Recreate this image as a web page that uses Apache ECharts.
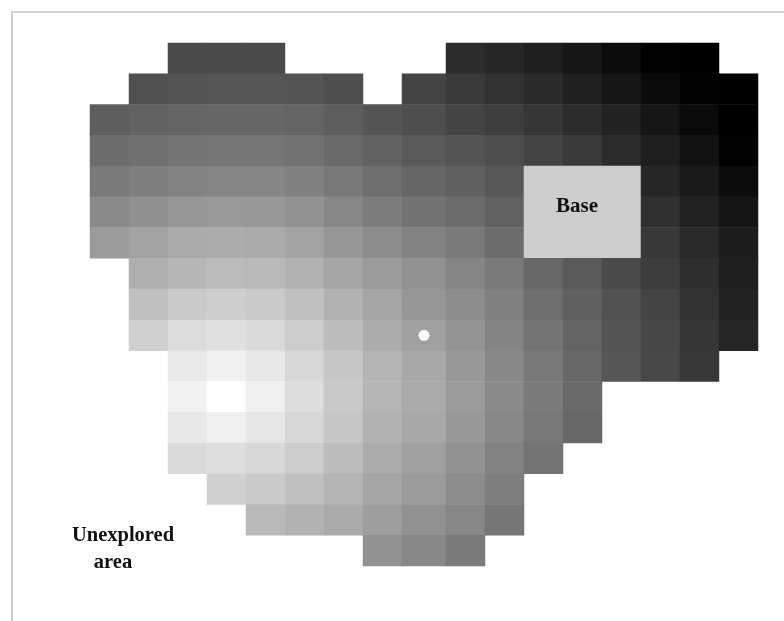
<!DOCTYPE html>
<html>
<head>
<meta charset="utf-8">
<style>
  html, body { margin: 0; padding: 0; background: #fff; }
  #chart { width: 784px; height: 621px; }
</style>
<script src="https://cdn.jsdelivr.net/npm/echarts@6/dist/echarts.min.js"></script>
</head>
<body>
<div id="chart"></div>
<script>
const rows = ['0', '1', '2', '3', '4', '5', '6', '7', '8', '9', '10', '11', '12', '13', '14', '15', '16'];
const leftColumns = ['0', '1', '2', '3', '4', '5', '6', '7'];
const middleColumns = ['8'];
const rightColumns = ['9', '10', '11', '12', '13', '14', '15', '16'];

// grey level of each explored cell (0 black, 255 white), null = unexplored
const _ = null;
const greyLevels = [
  [_, _, 74, 74, 74, _, _, _, _, 44, 38, 30, 22, 12, 2, 0, _],
  [_, 80, 84, 86, 86, 85, 78, _, 68, 58, 50, 42, 32, 22, 10, 2, 0],
  [94, 98, 101, 103, 103, 100, 94, 85, 78, 68, 62, 54, 44, 34, 22, 10, 0],
  [108, 112, 116, 118, 118, 114, 106, 98, 90, 84, 78, 68, 58, 44, 30, 18, 2],
  [122, 126, 130, 133, 133, 128, 120, 110, 102, 96, 88, 205, 205, 205, 38, 26, 12],
  [138, 144, 150, 153, 152, 146, 135, 125, 115, 108, 98, 205, 205, 205, 48, 34, 20],
  [155, 163, 170, 172, 170, 163, 150, 140, 130, 122, 108, 205, 205, 205, 56, 42, 28],
  [_, 175, 182, 187, 185, 178, 165, 155, 145, 133, 122, 104, 90, 74, 60, 46, 30],
  [_, 192, 202, 206, 202, 192, 178, 165, 150, 140, 128, 110, 96, 82, 68, 50, 34],
  [_, 208, 220, 224, 218, 205, 188, 172, 160, 148, 132, 116, 100, 84, 70, 54, 38],
  [_, _, 233, 240, 232, 215, 198, 180, 168, 152, 136, 120, 104, 86, 72, 56, _],
  [_, _, 242, 255, 240, 220, 200, 182, 170, 155, 138, 122, 106, _, _, _, _],
  [_, _, 232, 240, 230, 215, 198, 178, 168, 152, 136, 120, 104, _, _, _, _],
  [_, _, 218, 222, 216, 205, 188, 172, 160, 146, 130, 116, _, _, _, _, _],
  [_, _, _, 208, 202, 192, 180, 165, 155, 140, 126, _, _, _, _, _, _],
  [_, _, _, _, 185, 178, 170, 158, 145, 135, 118, _, _, _, _, _, _],
  [_, _, _, _, _, _, _, 145, 135, 122, _, _, _, _, _, _, _]
];

// the picture's ninth column is a little wider than the others, so it gets its own grid
const parts = [
  { columns: leftColumns, first: 0, left: 90, width: 312 },
  { columns: middleColumns, first: 8, left: 402, width: 44 },
  { columns: rightColumns, first: 9, left: 446, width: 312 }
];

function cellsOf(part) {
  const cells = [];
  greyLevels.forEach(function(row, r) {
    part.columns.forEach(function(name, c) {
      const v = row[part.first + c];
      if (v !== null) cells.push([c, r, v]);
    });
  });
  return cells;
}

const hiddenAxis = {
  axisLine: { show: false },
  axisTick: { show: false },
  axisLabel: { show: false },
  splitLine: { show: false },
  splitArea: { show: false }
};

const myChart = echarts.init(document.getElementById('chart'), null, { renderer: 'canvas' });
const option = {
  animation: false,
  backgroundColor: '#fff',
  grid: parts.map(function(p) {
    return { left: p.left, top: 43, width: p.width, height: 523 };
  }),
  xAxis: parts.map(function(p, i) {
    return Object.assign({ type: 'category', gridIndex: i, data: p.columns }, hiddenAxis);
  }),
  yAxis: parts.map(function(p, i) {
    return Object.assign({ type: 'category', gridIndex: i, inverse: true, data: rows }, hiddenAxis);
  }),
  visualMap: {
    show: false,
    seriesIndex: [0, 1, 2],
    min: 0,
    max: 255,
    inRange: { color: ['#000000', '#ffffff'] }
  },
  series: parts.map(function(p, i) {
    return {
      type: 'heatmap',
      xAxisIndex: i,
      yAxisIndex: i,
      data: cellsOf(p),
      emphasis: { disabled: true },
      silent: true
    };
  }).concat([
    {
      type: 'scatter',
      xAxisIndex: 1,
      yAxisIndex: 1,
      data: [[0, 9]],
      symbol: 'circle',
      symbolSize: 11,
      itemStyle: { color: '#fff', opacity: 1 },
      silent: true,
      z: 5
    }
  ]),
  graphic: [
    // frame around the picture
    { type: 'rect', shape: { x: 11, y: 11, width: 773, height: 2 }, style: { fill: '#d6d6d6' } },
    { type: 'rect', shape: { x: 11, y: 11, width: 2, height: 610 }, style: { fill: '#d0d0d0' } },
    {
      type: 'text', x: 577, y: 207, z: 10,
      style: { text: 'Base', font: 'bold 21px "Liberation Serif"', fill: '#111', align: 'center', verticalAlign: 'middle' }
    },
    {
      type: 'text', x: 123, y: 536, z: 10,
      style: { text: 'Unexplored', font: 'bold 20.5px "Liberation Serif"', fill: '#111', align: 'center', verticalAlign: 'middle' }
    },
    {
      type: 'text', x: 113, y: 563, z: 10,
      style: { text: 'area', font: 'bold 20.5px "Liberation Serif"', fill: '#111', align: 'center', verticalAlign: 'middle' }
    }
  ]
};
myChart.setOption(option);
</script>
</body>
</html>
